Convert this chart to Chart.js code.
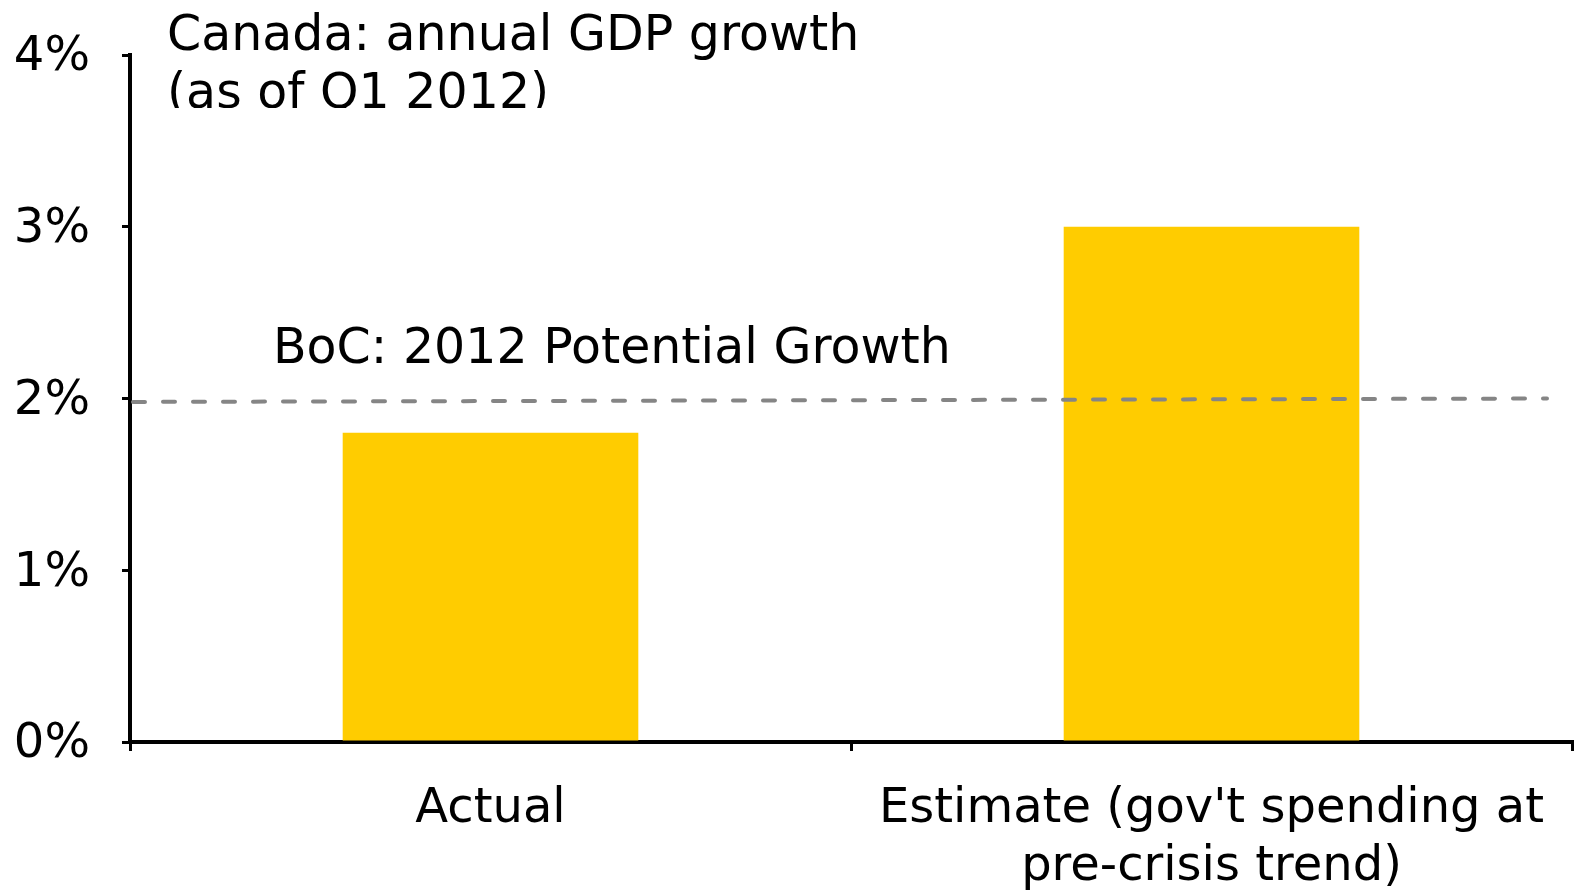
<!DOCTYPE html>
<html>
<head>
<meta charset="utf-8">
<script src="https://cdn.jsdelivr.net/npm/chart.js@4/dist/chart.umd.min.js"></script>
<style>
  html, body { margin: 0; padding: 0; background: #fff; }
  canvas { display: block; }
</style>
</head>
<body>
<canvas id="gdpChart" width="1575" height="891"></canvas>
<script>
const categories = ['Actual', ["Estimate (gov't spending at", 'pre-crisis trend)']];
const growth = [1.8, 3.0];
const yTicks = [0, 1, 2, 3, 4];
// BoC potential growth reference line, left end / right end
const potentialGrowth = [1.98, 2.0];
const potentialLabel = 'BoC: 2012 Potential Growth';
const titleLines = ['Canada: annual GDP growth', '(as of Q1 2012)'];

const FONT = "'DejaVu Sans', Verdana, sans-serif";

// title text in the top-left corner, bottom edge cut off like the original
const titlePlugin = {
  id: 'titleText',
  afterDraw(chart) {
    const ctx = chart.ctx;
    ctx.save();
    ctx.beginPath();
    ctx.rect(0, 0, chart.width, 108);
    ctx.clip();
    ctx.fillStyle = '#000';
    ctx.font = '49px ' + FONT;
    ctx.textBaseline = 'alphabetic';
    ctx.textAlign = 'left';
    ctx.fillText(titleLines[0], 167, 50);
    ctx.fillText(titleLines[1], 167, 108);
    ctx.restore();
  }
};

// dashed potential-growth line plus its label
const potentialPlugin = {
  id: 'potentialLine',
  afterDatasetsDraw(chart) {
    const ctx = chart.ctx;
    const y = chart.scales.y;
    const area = chart.chartArea;
    const x0 = area.left;
    const x1 = area.right - 25;
    ctx.save();
    ctx.strokeStyle = '#858585';
    ctx.lineWidth = 4;
    ctx.lineCap = 'round';
    ctx.setLineDash([12, 18]);
    ctx.beginPath();
    ctx.moveTo(x0 + 3, y.getPixelForValue(potentialGrowth[0]));
    ctx.lineTo(x1, y.getPixelForValue(potentialGrowth[1]));
    ctx.stroke();
    ctx.setLineDash([]);
    ctx.fillStyle = '#000';
    ctx.font = '49px ' + FONT;
    ctx.textAlign = 'left';
    ctx.textBaseline = 'alphabetic';
    ctx.fillText(potentialLabel, 273, y.getPixelForValue(potentialGrowth[0]) - 39);
    ctx.restore();
  }
};

const chart = new Chart(document.getElementById('gdpChart').getContext('2d'), {
  type: 'bar',
  data: {
    labels: categories,
    datasets: [{
      data: growth,
      backgroundColor: '#FFCC00',
      borderWidth: 0,
      barPercentage: 0.41,
      categoryPercentage: 1.0,
    }],
  },
  options: {
    responsive: false,
    animation: false,
    devicePixelRatio: 1,
    layout: { padding: { top: 55, right: 3, bottom: 0, left: 0 } },
    plugins: {
      legend: { display: false },
      tooltip: { enabled: false },
    },
    scales: {
      x: {
        grid: {
          offset: true,
          drawOnChartArea: false,
          color: '#000',
          lineWidth: 3,
          tickLength: 9,
        },
        border: { display: true, color: '#000', width: 4 },
        ticks: {
          color: '#000',
          font: { family: FONT, size: 48, lineHeight: 1.2 },
          padding: 30,
          maxRotation: 0,
          autoSkip: false,
        },
        afterFit(scale) { scale.height = 149; },
      },
      y: {
        min: 0,
        max: 4,
        afterBuildTicks(scale) { scale.ticks = yTicks.map(v => ({ value: v })); },
        grid: {
          drawOnChartArea: false,
          color: '#000',
          lineWidth: 3,
          tickLength: 8,
        },
        border: { display: true, color: '#000', width: 4 },
        ticks: {
          color: '#000',
          font: { family: FONT, size: 48 },
          padding: 32,
          labelOffset: 3,
          callback: v => v + '%',
        },
        afterFit(scale) {
          scale.width = 130;
          // the label padding shouldn't push the plot top down
          scale.paddingTop = 20;
          scale.paddingBottom = 20;
        },
      },
    },
  },
  plugins: [titlePlugin, potentialPlugin],
});
</script>
</body>
</html>
